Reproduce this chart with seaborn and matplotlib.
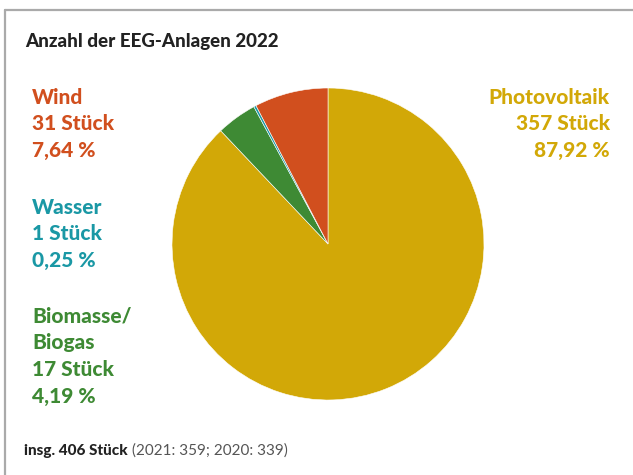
"""Pie chart: number of EEG plants 2022 by energy source."""

import matplotlib.pyplot as plt
import seaborn as sns
from matplotlib.lines import Line2D

W, H = 633, 475

categories = ["Photovoltaik", "Biomasse/\nBiogas", "Wasser", "Wind"]
counts = [357, 17, 1, 31]
shares = ["87,92 %", "4,19 %", "0,25 %", "7,64 %"]
colors = ["#D2A807", "#3E8A34", "#1A98A5", "#D14F1E"]
total_label = "insg. 406 Stück"
history_label = "(2021: 359; 2020: 339)"


def px(x, y):
    return x / W, 1 - y / H


sns.set_theme(style="white")
plt.rcParams["font.family"] = ["Lato", "DejaVu Sans"]

fig = plt.figure(figsize=(W / 100, H / 100), dpi=100)

cx, cy, r = 328, 244, 156
ax = fig.add_axes([(cx - r) / W, (H - cy - r) / H, 2 * r / W, 2 * r / H])
ax.pie(counts, colors=colors, startangle=90, counterclock=False,
       wedgeprops=dict(edgecolor="white", linewidth=0.4))
ax.set_xlim(-1, 1)
ax.set_ylim(-1, 1)
ax.set_aspect("equal")
ax.axis("off")

# frame (only top and left edges visible)
fig.add_artist(Line2D([5 / W, 5 / W], [0, 1 - 10 / H], color="#AAAAAA", lw=1.6))
fig.add_artist(Line2D([5 / W, 1], [1 - 10 / H, 1 - 10 / H], color="#AAAAAA", lw=1.6))

fig.text(*px(25, 42), "Anzahl der EEG-Anlagen 2022", fontsize=13.5,
         fontweight=900, color="#222222", va="center", ha="left")

label_fs = 15
line_h = 26.8

def block(x, y0, lines, color, ha):
    for i, line in enumerate(lines):
        fig.text(*px(x, y0 + i * line_h), line, fontsize=label_fs, fontweight=900,
                 color=color, va="center", ha=ha)

block(610, 97, [categories[0], f"{counts[0]} Stück", shares[0]], colors[0], "right")
block(32, 97, [categories[3], f"{counts[3]} Stück", shares[3]], colors[3], "left")
block(32, 207, [categories[2], f"{counts[2]} Stück", shares[2]], colors[2], "left")
block(32, 316, categories[1].split("\n") + [f"{counts[1]} Stück", shares[1]], colors[1], "left")

t = fig.text(*px(24, 451), total_label, fontsize=11, fontweight=900,
             color="#222222", va="center", ha="left")
fig.canvas.draw()
bb = t.get_window_extent()
fig.text((bb.x1 + 4) / W, 1 - 451 / H, history_label, fontsize=11,
         fontweight="normal", color="#555555", va="center", ha="left")

fig.savefig("out.png", dpi=100)
